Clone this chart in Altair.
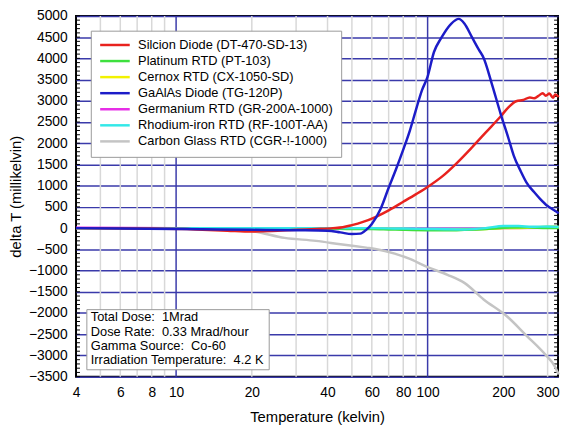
import altair as alt
import pandas as pd

names = [
    "Silcion Diode (DT-470-SD-13)",
    "Platinum RTD (PT-103)",
    "Cernox RTD (CX-1050-SD)",
    "GaAlAs Diode (TG-120P)",
    "Germanium RTD (GR-200A-1000)",
    "Rhodium-iron RTD (RF-100T-AA)",
    "Carbon Glass RTD (CGR-!-1000)",
]
colors = ["#e8221e", "#3ee03e", "#f2f200", "#1c1cc8", "#e62ee6", "#33e8e8", "#c4c4c4"]

# Silicon diode
t_si = [4, 8, 12, 16, 20, 24, 30, 36, 42, 46, 50, 55, 62, 70, 80, 90, 100, 115, 130, 150,
        170, 195, 210, 225, 240, 255, 265, 275, 287, 295, 305, 315, 322, 332]
v_si = [0, -10, -30, -60, -80, -70, -40, -20, 0, 20, 70, 140, 260, 420, 620, 800, 970, 1230, 1520, 1900,
        2250, 2630, 2850, 2990, 3020, 3080, 3060, 3110, 3180, 3120, 3170, 3070, 3150, 3090]
# Platinum
t_pt = [4, 10, 20, 30, 40, 50, 60, 70, 80, 100, 120, 140, 170, 200, 250, 300, 332]
v_pt = [0, 0, -10, -10, -10, -20, -20, -30, -40, -50, -50, -40, -20, 10, 20, 0, 0]
# Cernox
t_cx = [4, 10, 20, 40, 60, 80, 100, 130, 170, 200, 250, 300, 320, 332]
v_cx = [0, 0, -10, -10, -10, -20, -30, -30, -20, 0, 10, 30, 40, 20]
# GaAlAs diode
t_ga = [4, 6, 10, 15, 20, 30, 40, 45, 50, 54, 57, 60, 65, 70, 75, 80, 85, 90, 95, 100, 106, 113,
        124, 133, 140, 150, 160, 167, 180, 195, 210, 220, 235, 247, 265, 280, 300, 315, 332]
v_ga = [0, -10, -20, -30, -40, -50, -60, -100, -140, -130, -40, 100, 450, 950, 1400, 1850, 2300, 2800,
        3250, 3570, 4150, 4470, 4815, 4930, 4820, 4500, 4200, 4010, 3400, 2700, 2100, 1710, 1330,
        1080, 850, 690, 520, 440, 350]
# Germanium
t_ge = [4, 10, 20, 40, 60, 100, 150, 200, 300, 332]
v_ge = [10, 0, -10, -10, -10, -20, -20, 0, 10, 10]
# Rhodium-iron
t_rf = [4, 10, 20, 40, 60, 80, 100, 140, 170, 200, 230, 260, 300, 332]
v_rf = [0, 0, 0, 0, 0, -10, -20, -30, 0, 50, 50, 30, 40, 30]
# Carbon glass
t_cg = [4, 10, 15, 20, 27, 36, 45, 57, 62, 74, 84, 100, 120, 140, 167, 206, 247, 296, 320, 332]
v_cg = [0, -10, -30, -70, -230, -300, -380, -460, -490, -600, -715, -920, -1100, -1290, -1680,
        -2070, -2530, -3000, -3250, -3450]

x_labels = [4, 6, 8, 10, 20, 40, 60, 80, 100, 200, 300]
y_labels = list(range(-3500, 5001, 500))
grid_minor = [5, 6, 7, 8, 9, 20, 30, 40, 50, 60, 70, 80, 90, 200, 300]
grid_major = [10, 100]
minor_ticks = list(range(-3500, 5001, 100))

info_lines = [
    "Total Dose:\u00a0 1Mrad",
    "Dose Rate:\u00a0 0.33 Mrad/hour",
    "Gamma Source:\u00a0 Co-60",
    "Irradiation Temperature:\u00a0 4.2 K",
]

series = [
    (names[6], t_cg, v_cg),
    (names[4], t_ge, v_ge),
    (names[2], t_cx, v_cx),
    (names[1], t_pt, v_pt),
    (names[5], t_rf, v_rf),
    (names[0], t_si, v_si),
    (names[3], t_ga, v_ga),
]
rows = []
for k, (n, ts, vs) in enumerate(series):
    for i, (t, v) in enumerate(zip(ts, vs)):
        rows.append({"sensor": n, "T": t, "dT": v, "idx": i})
df = pd.DataFrame(rows)

W, H = 489, 366
FONT = "Liberation Sans"
x_scale = alt.Scale(type="log", domain=[4, 330], nice=False)
y_scale = alt.Scale(domain=[-3500, 5000], nice=False)

x_axis = alt.Axis(values=x_labels, format="d", grid=False, ticks=False, labelPadding=9,
                  labelFlush=False, labelOverlap=False, labelFont=FONT, labelFontSize=14,
                  labelColor="black", title="Temperature (kelvin)", titleFont=FONT,
                  titleFontSize=15, titleFontWeight="normal", titleColor="black",
                  titlePadding=10, domain=False)
y_axis = alt.Axis(values=y_labels, format="d", grid=True, gridColor="#3a3aaa", gridWidth=1.5,
                  ticks=False, labelPadding=9, labelOverlap=False, labelBound=False,
                  labelFont=FONT, labelFontSize=14, labelColor="black",
                  title="delta T (millikelvin)", titleFont=FONT, titleFontSize=15,
                  titleFontWeight="normal", titleColor="black", titlePadding=5, domain=False)

vminor = alt.Chart(pd.DataFrame({"T": grid_minor})).mark_rule(
    color="#d8d8d8", strokeWidth=1.5).encode(x=alt.X("T:Q", scale=x_scale, axis=x_axis))
vmajor = alt.Chart(pd.DataFrame({"T": grid_major})).mark_rule(
    color="#3a3aaa", strokeWidth=1.5).encode(x=alt.X("T:Q", scale=x_scale, axis=x_axis))

lticks = alt.Chart(pd.DataFrame({"v": minor_ticks})).mark_rule(color="black", strokeWidth=1).encode(
    y=alt.Y("v:Q", scale=y_scale, axis=y_axis), x=alt.value(0), x2=alt.value(4))
rticks = alt.Chart(pd.DataFrame({"v": minor_ticks})).mark_rule(color="black", strokeWidth=1).encode(
    y=alt.Y("v:Q", scale=y_scale, axis=y_axis), x=alt.value(W - 4), x2=alt.value(W))

legend = alt.Legend(orient="none", legendX=15, legendY=15, title=None,
                    symbolType="M-1,0H5", symbolSize=100, symbolStrokeWidth=2.5,
                    labelFont=FONT, labelFontSize=13, labelColor="black", labelOffset=27,
                    padding=8, rowPadding=2.3, fillColor="white", strokeColor="#999999",
                    labelLimit=400)

lines = alt.Chart(df).mark_line(strokeWidth=2.5, interpolate="monotone").encode(
    x=alt.X("T:Q", scale=x_scale, axis=x_axis),
    y=alt.Y("dT:Q", scale=y_scale, axis=y_axis),
    color=alt.Color("sensor:N", scale=alt.Scale(domain=names, range=colors), legend=legend),
    order="idx:Q",
)

one = pd.DataFrame({"a": [0]})
info_box = alt.Chart(one).mark_rect(fill="white", stroke="#999999", strokeWidth=1).encode(
    x=alt.value(11), x2=alt.value(196), y=alt.value(298), y2=alt.value(359))
info_text = alt.Chart(one).mark_text(align="left", baseline="top", font=FONT, fontSize=13,
                                     lineHeight=14.5, color="black").encode(
    x=alt.value(15), y=alt.value(300), text=alt.value(info_lines))

chart = alt.layer(vminor, vmajor, lticks, rticks, lines, info_box, info_text).properties(
    width=W, height=H,
    autosize=alt.AutoSizeParams(type="none"),
    padding={"left": 69, "top": 5, "right": 2, "bottom": 46},
).configure_view(stroke="black", strokeWidth=2).configure_axis(labelOverlap=False)

chart.save("out.html", embed_options={"renderer": "svg", "actions": False})
